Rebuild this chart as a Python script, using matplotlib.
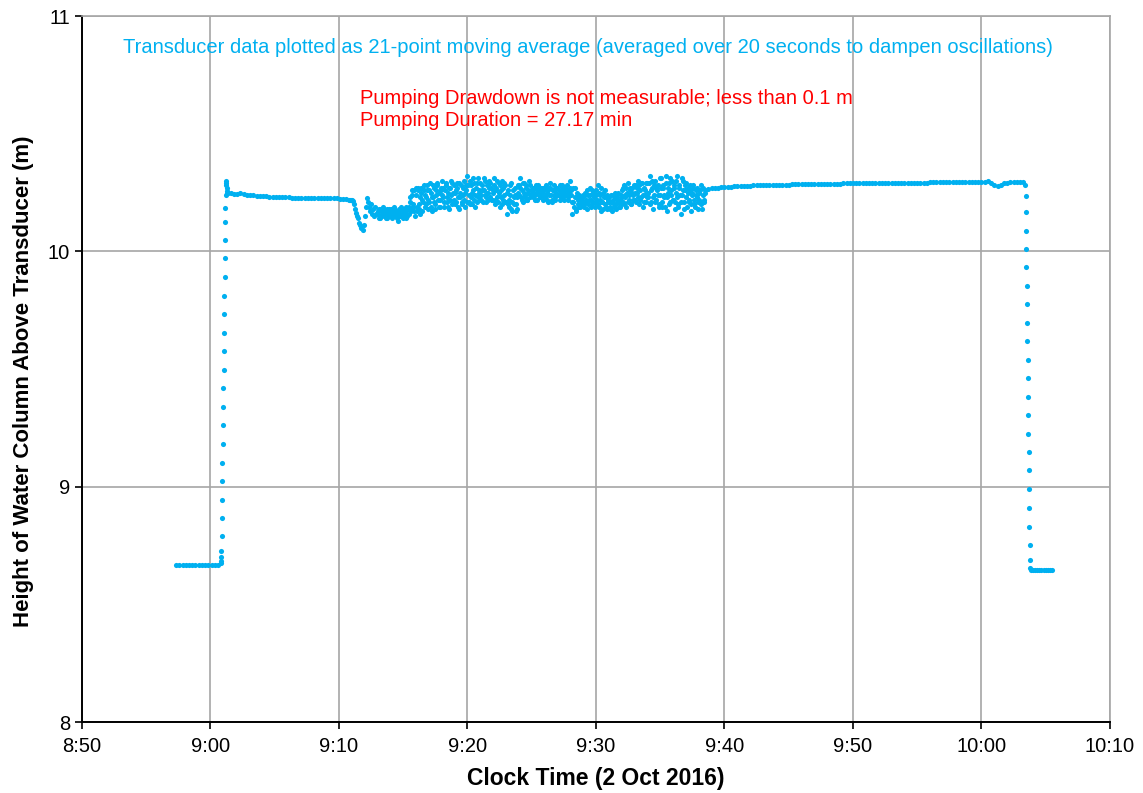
import numpy as np
import pandas as pd
import matplotlib
matplotlib.use('Agg')
import matplotlib.pyplot as plt

plt.rcParams['font.family'] = ['Liberation Sans', 'DejaVu Sans']

# water column height (m), 21-pt moving average, segments as (start time, step in s, values)
pre_pump = [8.668, 8.667, 8.667, 8.668, 8.667, 8.666, 8.667, 8.667, 8.668, 8.667,
            8.666, 8.667, 8.668, 8.669]

ramp_up = [8.675, 8.684, 8.701, 8.726, 8.790, 8.866, 8.943, 9.023, 9.100, 9.180,
           9.261, 9.338, 9.418, 9.495, 9.575, 9.652, 9.732, 9.809, 9.890, 9.970,
           10.047, 10.123, 10.183, 10.24, 10.28, 10.30, 10.29, 10.27, 10.255, 10.248]

level_1 = [10.246, 10.248, 10.245,
           10.244, 10.246, 10.243, 10.241,
           10.240, 10.238, 10.237, 10.236,
           10.235, 10.234, 10.233, 10.232,
           10.231, 10.230, 10.230, 10.229,
           10.229, 10.228, 10.228, 10.228,
           10.227, 10.227, 10.227, 10.227,
           10.226, 10.226, 10.226, 10.226,
           10.226, 10.225, 10.225, 10.225,
           10.224, 10.223, 10.221]

pumping = [10.22, 10.22, 10.218, 10.218, 10.215, 10.20, 10.18, 10.165, 10.15, 10.14,
           10.12, 10.11, 10.10, 10.09, 10.11,
           10.15, 10.19, 10.225, 10.21, 10.19, 10.17, 10.20, 10.16, 10.18, 10.15, 10.19, 10.16,
           10.17, 10.14, 10.18, 10.15, 10.17, 10.16, 10.18, 10.15, 10.17, 10.14, 10.16, 10.18,
           10.15, 10.17, 10.16, 10.18, 10.15, 10.17, 10.14, 10.16, 10.18, 10.15, 10.17, 10.16,
           10.18, 10.15, 10.17, 10.14, 10.16, 10.19, 10.21, 10.17, 10.24, 10.19, 10.26, 10.15,
           # 9:16 onwards
           10.24, 10.17, 10.27, 10.20, 10.16, 10.25, 10.22, 10.28, 10.19, 10.23, 10.26, 10.18,
           10.21, 10.29, 10.25, 10.17, 10.23, 10.27, 10.20, 10.24, 10.28, 10.19, 10.22, 10.26,
           10.30, 10.23, 10.19, 10.26, 10.28, 10.21, 10.25, 10.18, 10.27, 10.24, 10.29, 10.22,
           10.20, 10.26, 10.29, 10.23, 10.18, 10.25, 10.28, 10.21, 10.24, 10.30, 10.19, 10.26,
           10.32, 10.24, 10.20, 10.28, 10.25, 10.31, 10.22, 10.19, 10.27, 10.29, 10.23, 10.26,
           10.29, 10.22, 10.26, 10.31, 10.24, 10.21, 10.28, 10.25, 10.30, 10.23, 10.27, 10.22,
           10.25, 10.31, 10.20, 10.27, 10.23, 10.29, 10.19, 10.26, 10.30, 10.22, 10.24, 10.28,
           10.21, 10.16, 10.26, 10.19, 10.24, 10.29, 10.17, 10.23, 10.27, 10.20, 10.18, 10.25,
           10.28, 10.31, 10.23, 10.26, 10.21, 10.29, 10.24, 10.27, 10.22, 10.25, 10.28, 10.24,
           10.26, 10.23, 10.27, 10.24, 10.28, 10.22, 10.25, 10.27, 10.23, 10.26, 10.24, 10.27,
           10.23, 10.28, 10.25, 10.21, 10.27, 10.29, 10.24, 10.22, 10.26, 10.28, 10.23, 10.25,
           10.27, 10.24, 10.22, 10.26, 10.28, 10.23, 10.25, 10.27, 10.24, 10.26, 10.22, 10.25,
           10.30, 10.24, 10.16, 10.21, 10.27, 10.18, 10.23, 10.20, 10.24, 10.19, 10.22, 10.21,
           10.23, 10.19, 10.25, 10.21, 10.18, 10.24, 10.27, 10.22, 10.20, 10.25, 10.23, 10.21,
           10.26, 10.22, 10.28, 10.19, 10.24, 10.17, 10.21, 10.25, 10.20, 10.23, 10.18, 10.22,
           10.21, 10.19, 10.24, 10.17, 10.22, 10.20, 10.25, 10.18, 10.23, 10.21, 10.19, 10.24,
           10.26, 10.21, 10.28, 10.23, 10.19, 10.25, 10.29, 10.22, 10.26, 10.20, 10.27, 10.24,
           10.22, 10.28, 10.25, 10.30, 10.20, 10.26, 10.23, 10.29, 10.19, 10.27, 10.24, 10.21,
           10.29, 10.25, 10.32, 10.21, 10.27, 10.18, 10.24, 10.30, 10.22, 10.26, 10.28, 10.20,
           10.24, 10.31, 10.19, 10.27, 10.23, 10.32, 10.17, 10.25, 10.29, 10.21, 10.26, 10.30,
           10.22, 10.28, 10.18, 10.25, 10.32, 10.20, 10.27, 10.16, 10.24, 10.30, 10.21, 10.26,
           10.29, 10.19, 10.25, 10.22, 10.28, 10.17, 10.24, 10.27, 10.20, 10.26, 10.23, 10.18,
           10.25, 10.21, 10.28, 10.18, 10.24, 10.22]

# readings in between the ones above (offset 2.5 s), from 9:13 on
pumping_mid = [10.16, 10.18, 10.14, 10.17, 10.15, 10.19, 10.16, 10.14, 10.18, 10.16, 10.15, 10.17,
               10.18, 10.14, 10.16, 10.19, 10.15, 10.17, 10.16, 10.13, 10.17, 10.19, 10.16, 10.14,
               10.17, 10.16, 10.19, 10.15, 10.18, 10.16, 10.23, 10.18, 10.26, 10.20, 10.17, 10.27,
               10.19, 10.26, 10.18, 10.23, 10.27, 10.17, 10.21, 10.26, 10.24, 10.20, 10.28, 10.22,
               10.26, 10.19, 10.23, 10.28, 10.21, 10.18, 10.26, 10.29, 10.22, 10.25, 10.19, 10.27,
               10.24, 10.27, 10.21, 10.29, 10.23, 10.19, 10.27, 10.22, 10.30, 10.20, 10.25, 10.28,
               10.25, 10.21, 10.27, 10.19, 10.29, 10.23, 10.20, 10.27, 10.22, 10.25, 10.28, 10.21,
               10.28, 10.21, 10.30, 10.23, 10.20, 10.26, 10.29, 10.24, 10.21, 10.31, 10.25, 10.22,
               10.24, 10.28, 10.21, 10.26, 10.30, 10.23, 10.25, 10.22, 10.27, 10.29, 10.22, 10.26,
               10.28, 10.22, 10.26, 10.30, 10.21, 10.25, 10.28, 10.23, 10.20, 10.27, 10.29, 10.21,
               10.25, 10.20, 10.22, 10.28, 10.18, 10.21, 10.26, 10.20, 10.24, 10.17, 10.23, 10.28,
               10.24, 10.27, 10.22, 10.29, 10.25, 10.23, 10.28, 10.22, 10.26, 10.30, 10.23, 10.26,
               10.24, 10.27, 10.25, 10.22, 10.26, 10.28, 10.24, 10.23, 10.27, 10.25, 10.22, 10.26,
               10.27, 10.24, 10.22, 10.26, 10.24, 10.27, 10.21, 10.26, 10.24, 10.22, 10.27, 10.24,
               10.24, 10.26, 10.28, 10.23, 10.25, 10.27, 10.22, 10.26, 10.28, 10.23, 10.25, 10.27,
               10.26, 10.21, 10.27, 10.19, 10.23, 10.17, 10.25, 10.22, 10.19, 10.23, 10.20, 10.24,
               10.20, 10.24, 10.22, 10.26, 10.20, 10.22, 10.24, 10.19, 10.26, 10.21, 10.24, 10.19,
               10.24, 10.20, 10.25, 10.22, 10.27, 10.21, 10.18, 10.23, 10.26, 10.19, 10.24, 10.21,
               10.23, 10.18, 10.21, 10.24, 10.19, 10.23, 10.20, 10.22, 10.25, 10.19, 10.22, 10.20,
               10.23, 10.27, 10.20, 10.24, 10.27, 10.21, 10.24, 10.27, 10.20, 10.25, 10.22, 10.28,
               10.25, 10.21, 10.27, 10.23, 10.28, 10.22, 10.29, 10.24, 10.21, 10.26, 10.29, 10.23,
               10.23, 10.29, 10.20, 10.26, 10.30, 10.23, 10.28, 10.21, 10.27, 10.24, 10.19, 10.31,
               10.27, 10.21, 10.28, 10.24, 10.19, 10.29, 10.23, 10.27, 10.20, 10.31, 10.24, 10.22,
               10.27, 10.21, 10.30, 10.23, 10.19, 10.28, 10.24, 10.21, 10.31, 10.26, 10.18, 10.28,
               10.23, 10.27, 10.21, 10.26, 10.20, 10.25, 10.28, 10.22, 10.19, 10.24, 10.27, 10.21,
               10.22, 10.26, 10.20, 10.27, 10.21, 10.25]

level_2 = [10.262, 10.266,
           10.268, 10.270, 10.271, 10.272,
           10.273, 10.274, 10.275, 10.276,
           10.277, 10.277, 10.278, 10.279,
           10.279, 10.280, 10.280, 10.281,
           10.281, 10.282, 10.282, 10.283,
           10.283, 10.283, 10.284, 10.284,
           10.284, 10.285, 10.285, 10.285,
           10.286, 10.286, 10.286, 10.286,
           10.287, 10.287, 10.287, 10.287,
           10.288, 10.288, 10.288, 10.288,
           10.288, 10.289, 10.289, 10.289,
           10.289, 10.289, 10.289, 10.290,
           10.290, 10.290, 10.290, 10.290,
           10.290, 10.290, 10.291, 10.291,
           10.291, 10.291, 10.291, 10.291,
           10.291, 10.292, 10.292, 10.292,
           10.292, 10.292, 10.292, 10.292,
           10.293, 10.293, 10.293, 10.293,
           10.293, 10.293, 10.293, 10.294,
           10.294, 10.294, 10.294, 10.294,
           10.294, 10.294, 10.295, 10.295,
           10.295, 10.296, 10.298, 10.292,
           10.280, 10.276, 10.284, 10.290,
           10.292, 10.293, 10.293, 10.293,
           10.293, 10.293]

ramp_down = [10.280, 10.234, 10.166, 10.085, 10.008, 9.932, 9.851, 9.775, 9.694, 9.618,
             9.537, 9.461, 9.380, 9.304, 9.223, 9.146, 9.070, 8.989, 8.909, 8.828,
             8.752, 8.688, 8.654]

post_pump = [8.648, 8.646, 8.645, 8.645, 8.645, 8.644, 8.645, 8.645, 8.644, 8.645, 8.645]

segments = [
    ('2016-10-02 08:57:20', 15, pre_pump),
    ('2016-10-02 09:00:48', 1, ramp_up),
    ('2016-10-02 09:01:20', 15, level_1),
    ('2016-10-02 09:10:45', 5, pumping),
    ('2016-10-02 09:13:02.5', 5, pumping_mid),
    ('2016-10-02 09:38:30', 15, level_2),
    ('2016-10-02 10:03:25', 1, ramp_down),
    ('2016-10-02 10:03:50', 10, post_pump),
]

tick_times = pd.date_range('2016-10-02 08:50', '2016-10-02 10:10', freq='10min')
tick_labels = ['8:50', '9:00', '9:10', '9:20', '9:30', '9:40', '9:50', '10:00', '10:10']

cyan = '#00b0f0'

fig = plt.figure(figsize=(11.43, 7.93), dpi=100)
ax = fig.add_axes([0.0717, 0.0895, 0.8994, 0.8903])

for start, step, vals in segments:
    t = pd.date_range(start, periods=len(vals), freq=f'{step}s')
    ax.plot(t, vals, 'o', ms=3.7, mew=0, color=cyan, zorder=3)

ax.set_xlim(tick_times[0], tick_times[-1])
ax.set_ylim(8, 11)
ax.set_xticks(tick_times)
ax.set_xticklabels(tick_labels)
ax.set_yticks([8, 9, 10, 11])
ax.tick_params(labelsize=14.5, length=5, width=1.2, colors='black')
ax.tick_params(axis='x', pad=6)

ax.grid(True, color='#a6a6a6', lw=1.2, zorder=0)
ax.set_axisbelow(True)
for side in ['top', 'right']:
    ax.spines[side].set_color('#a6a6a6')
    ax.spines[side].set_linewidth(1.2)
for side in ['left', 'bottom']:
    ax.spines[side].set_color('black')
    ax.spines[side].set_linewidth(1.4)

ax.set_xlabel('Clock Time (2 Oct 2016)', fontsize=16.5, fontweight='bold', labelpad=8)
ax.set_ylabel('Height of Water Column Above Transducer (m)', fontsize=16,
              fontweight='bold')
ax.yaxis.set_label_coords(-0.047, 0.482)

ax.text(0.492, 0.956, 'Transducer data plotted as 21-point moving average '
        '(averaged over 20 seconds to dampen oscillations)',
        transform=ax.transAxes, ha='center', va='center', fontsize=14.5, color=cyan)
ax.text(0.270, 0.8676, 'Pumping Drawdown is not measurable; less than 0.1 m\n'
        'Pumping Duration = 27.17 min',
        transform=ax.transAxes, ha='left', va='center', fontsize=14.5, color='red',
        linespacing=1.25)

fig.savefig('out.png', dpi=100)
